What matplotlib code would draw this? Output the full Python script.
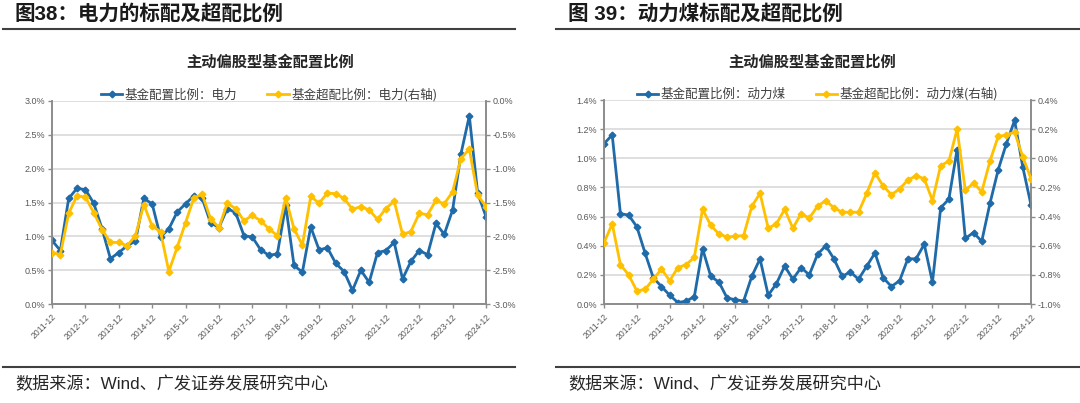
import matplotlib
matplotlib.use('Agg')
import matplotlib.pyplot as plt
from matplotlib.ticker import FuncFormatter
from matplotlib.lines import Line2D

plt.rcParams['font.family'] = ['Liberation Sans', 'Noto Sans CJK SC', 'DejaVu Sans']

# quarterly data, 2011-12 .. 2024-12 (percent)
x_labels = ['2011-12', '2012-12', '2013-12', '2014-12', '2015-12', '2016-12', '2017-12',
            '2018-12', '2019-12', '2020-12', '2021-12', '2022-12', '2023-12', '2024-12']

power_alloc = [0.94, 0.79, 1.56, 1.71, 1.69, 1.49, 1.11, 0.67, 0.76, 0.86,
               0.93, 1.56, 1.48, 0.99, 1.11, 1.36, 1.48, 1.60, 1.56, 1.20,
               1.13, 1.41, 1.35, 1.01, 0.99, 0.80, 0.72, 0.74, 1.46, 0.57,
               0.47, 1.14, 0.80, 0.83, 0.60, 0.48, 0.20, 0.50, 0.32, 0.76,
               0.79, 0.91, 0.37, 0.63, 0.79, 0.73, 1.19, 1.03, 1.39, 2.22,
               2.78, 1.64, 1.29]
power_excess = [-2.24, -2.27, -1.66, -1.40, -1.42, -1.65, -1.90, -2.09, -2.09, -2.14,
                -1.99, -1.53, -1.85, -1.93, -2.52, -2.16, -1.80, -1.43, -1.38, -1.74,
                -1.87, -1.51, -1.59, -1.77, -1.69, -1.77, -1.89, -1.99, -1.43, -1.89,
                -2.13, -1.41, -1.51, -1.36, -1.37, -1.44, -1.60, -1.56, -1.61, -1.75,
                -1.59, -1.48, -1.97, -1.93, -1.66, -1.68, -1.47, -1.52, -1.34, -0.85,
                -0.71, -1.39, -1.56]

coal_alloc = [1.10, 1.16, 0.62, 0.61, 0.53, 0.35, 0.18, 0.12, 0.06, 0.01,
              0.02, 0.05, 0.38, 0.19, 0.15, 0.04, 0.03, 0.02, 0.19, 0.31,
              0.06, 0.14, 0.26, 0.17, 0.25, 0.20, 0.34, 0.40, 0.31, 0.19,
              0.22, 0.17, 0.26, 0.35, 0.18, 0.12, 0.16, 0.31, 0.31, 0.41,
              0.15, 0.66, 0.72, 1.06, 0.45, 0.49, 0.43, 0.69, 0.92, 1.10,
              1.26, 0.94, 0.68]
coal_excess = [-0.58, -0.45, -0.73, -0.80, -0.91, -0.90, -0.83, -0.76, -0.84, -0.75,
               -0.73, -0.68, -0.35, -0.46, -0.52, -0.54, -0.535, -0.53, -0.33, -0.24,
               -0.48, -0.45, -0.35, -0.48, -0.38, -0.41, -0.33, -0.29, -0.34, -0.37,
               -0.37, -0.37, -0.24, -0.10, -0.19, -0.25, -0.21, -0.15, -0.12, -0.14,
               -0.29, -0.05, -0.02, 0.20, -0.22, -0.17, -0.23, -0.02, 0.15, 0.16,
               0.18, 0.01, -0.14]

BLUE = '#1f6aa8'
YELLOW = '#ffc000'
TICK_C = '#595959'
SPINE_C = '#8c8c8c'
CJK = ['Noto Sans CJK SC', 'DejaVu Sans']

W, H = 1080, 403
fig = plt.figure(figsize=(W / 100, H / 100), dpi=100)


def px_axes(x0, y0, x1, y1):
    return fig.add_axes([x0 / W, 1 - y1 / H, (x1 - x0) / W, (y1 - y0) / H])


pct = FuncFormatter(lambda v, p: f'{v:.1f}%')


def draw_panel(box, alloc, excess, ylim_l, ylim_r, step, name, header, hx, line_x, title_x):
    ax = px_axes(*box)
    ax2 = ax.twinx()
    n = len(alloc)
    xs = list(range(n))
    ax.plot(xs, alloc, color=BLUE, lw=2, marker='D', ms=3.4, zorder=3)
    ax2.plot(xs, excess, color=YELLOW, lw=2, marker='D', ms=3.4, zorder=3)

    ax.set_xlim(0, n - 1)
    ax.set_ylim(*ylim_l)
    ax2.set_ylim(*ylim_r)
    nt = int(round((ylim_l[1] - ylim_l[0]) / step)) + 1
    ax.set_yticks([ylim_l[0] + k * step for k in range(nt)])
    ax2.set_yticks([ylim_r[0] + k * step for k in range(nt)])
    ax.yaxis.set_major_formatter(pct)
    ax2.yaxis.set_major_formatter(pct)
    ax.set_xticks(range(0, n, 4))
    ax.set_xticklabels(x_labels, rotation=45, ha='right', rotation_mode='anchor')

    ax.grid(axis='y', color='#d9d9d9', lw=1.2, zorder=0)
    ax.set_axisbelow(True)
    for a in (ax, ax2):
        a.spines['top'].set_visible(False)
        for s in ('left', 'right', 'bottom'):
            a.spines[s].set_color(SPINE_C)
            a.spines[s].set_linewidth(1.2)
        a.tick_params(labelsize=6.5, colors=TICK_C, length=3, width=1, color=SPINE_C, pad=2)
    ax.tick_params(axis='x', labelsize=6.2, pad=3)

    handles = [Line2D([], [], color=BLUE, lw=2, marker='D', ms=3.4),
               Line2D([], [], color=YELLOW, lw=2, marker='D', ms=3.4)]
    ax.legend(handles, [f'基金配置比例：{name}', f'基金超配比例：{name}(右轴)'],
              loc='lower center', bbox_to_anchor=(0.5, 0.965), ncol=2, frameon=False,
              handlelength=1.7, columnspacing=2.4, handletextpad=0.2,
              borderaxespad=0.1, labelcolor='#404040',
              prop={'family': CJK, 'size': 9})

    fig.text(title_x / W, 1 - 62 / H, '主动偏股型基金配置比例', ha='center', va='center',
             fontsize=11, fontweight='bold', color='#262626', family=CJK)
    fig.text(hx / W, 1 - 14 / H, header, ha='left', va='center', fontsize=14.8,
             fontweight='bold', color='#1a1a1a')
    fig.text(hx / W, 1 - 384 / H, '数据来源：Wind、广发证券发展研究中心', ha='left', va='center',
             fontsize=12.3, color='#262626')
    for yy in (28.5, 367):
        fig.add_artist(Line2D([line_x[0] / W, line_x[1] / W], [1 - yy / H, 1 - yy / H],
                              color='#404040', lw=1.5))
    return ax, ax2


draw_panel((52, 101, 486, 304), power_alloc, power_excess, (0.0, 3.0), (-3.0, 0.0), 0.5,
           '电力', '图38：电力的标配及超配比例', 15, (3, 515), 270)
draw_panel((604, 100, 1031, 304), coal_alloc, coal_excess, (0.0, 1.4), (-1.0, 0.4), 0.2,
           '动力煤', '图 39：动力煤标配及超配比例', 568, (556, 1080), 812)

fig.savefig('out.png', dpi=100)
